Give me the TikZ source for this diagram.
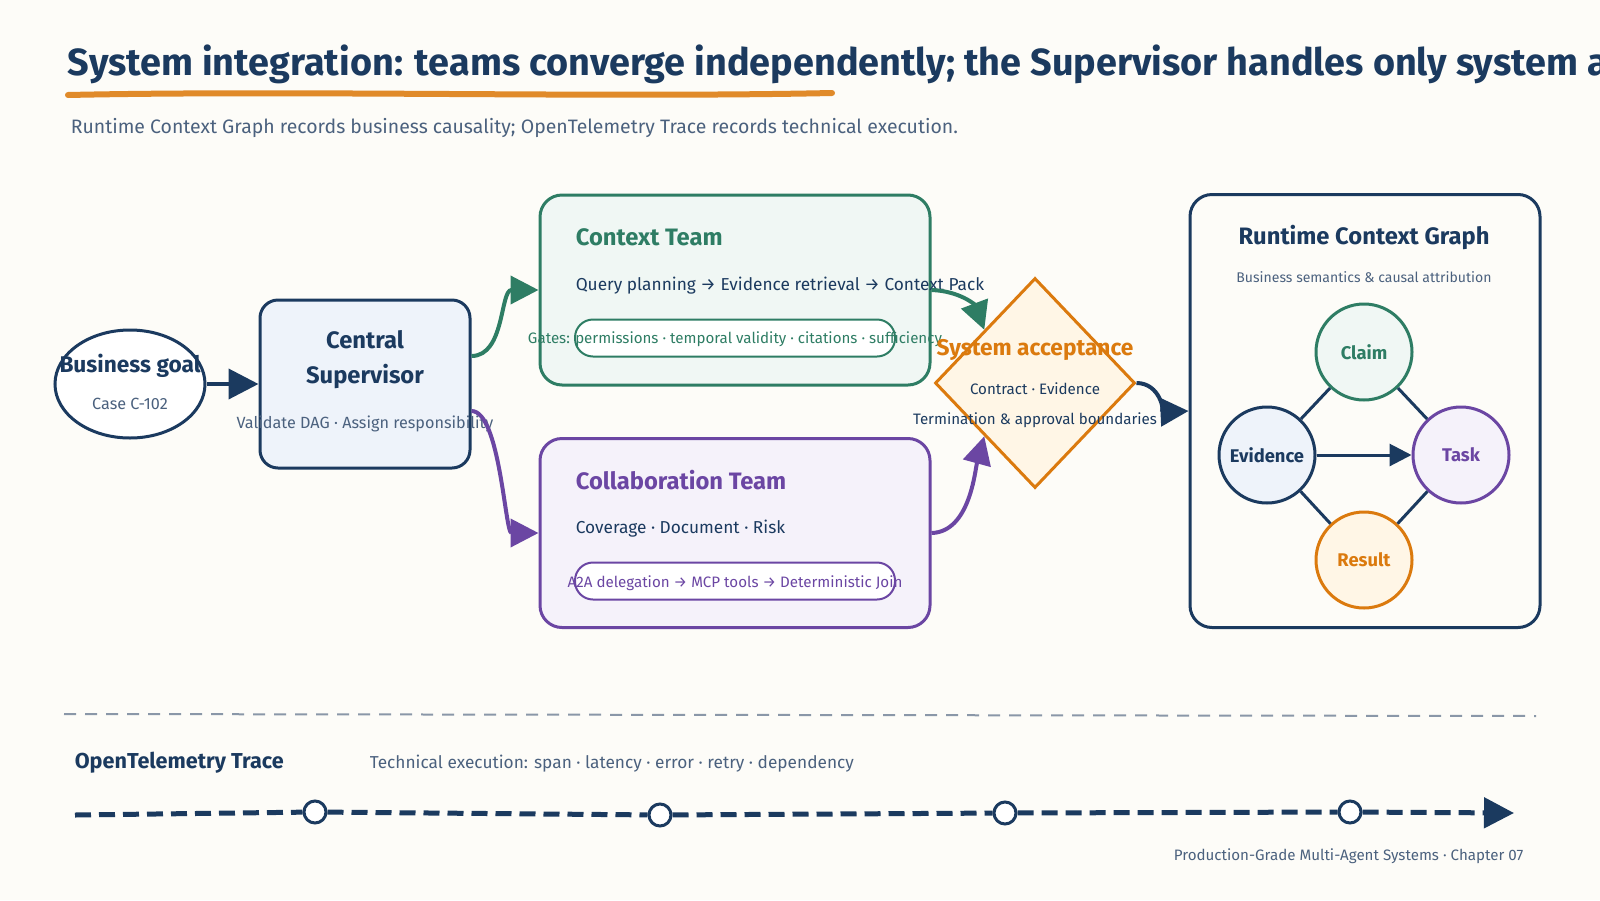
\documentclass[tikz,border=0pt]{standalone}
\usepackage{fontspec}
\setmainfont{Fira Sans}[Scale=1.08]
\usetikzlibrary{positioning,arrows.meta,shapes.geometric}
\definecolor{bgcream}{HTML}{FDFCF8}
\definecolor{navy}{HTML}{1B3A5F}
\definecolor{slate}{HTML}{4B617E}
\definecolor{teamgreen}{HTML}{2E7D64}
\definecolor{greenfill}{HTML}{F0F7F4}
\definecolor{teampurple}{HTML}{6B46A3}
\definecolor{purplefill}{HTML}{F5F2FA}
\definecolor{accorange}{HTML}{DB7A0E}
\definecolor{orangefill}{HTML}{FFF6E6}
\definecolor{markorange}{HTML}{E08A2A}
\definecolor{supfill}{HTML}{EEF3FA}
\definecolor{rulegrey}{HTML}{8A97A8}
\tikzset{
	bigtip/.style={-{Triangle[length=30pt,width=30pt]}},
	flow/.style={line width=4pt, draw=#1, -{Triangle[length=28pt,width=28pt,color=#1]}},
	panel/.style={draw=#1, line width=3pt, rounded corners=22pt, inner sep=0pt},
	pill/.style={draw=#1, line width=2pt, fill=white, rounded corners=18pt, minimum width=320pt, minimum height=37pt},
	graphnode/.style={circle, draw=#1, line width=3pt, minimum size=96pt, inner sep=0pt, text=#1, font=\fontsize{17}{20}\selectfont\bfseries},
	heading/.style={text=#1, font=\fontsize{22}{26}\selectfont\bfseries},
	smalltext/.style={text=#1, font=\fontsize{14}{17}\selectfont},
	bodytext/.style={text=navy, font=\fontsize{16}{19}\selectfont}
}

\begin{document}
\begin{tikzpicture}[x=1pt,y=-1pt]
	\useasboundingbox[fill=bgcream] (0,0) rectangle (1600,900);

	% title block
	\node[anchor=west, text=navy, font=\fontsize{35}{42}\selectfont\bfseries] (title) at (64,64) {System integration: teams converge independently; the Supervisor handles only system acceptance};
	\draw[markorange, line width=6pt, line cap=round] (68,95) .. controls (300,90) and (600,98) .. (832,93);
	\node[anchor=west, text=slate, font=\fontsize{18}{22}\selectfont] (subtitle) at (67,128) {Runtime Context Graph records business causality; OpenTelemetry Trace records technical execution.};

	% business goal
	\node[ellipse, draw=navy, line width=3pt, fill=white, minimum width=150pt, minimum height=108pt] (goal) at (130,384) {};
	\node[heading=navy, font=\fontsize{21}{25}\selectfont\bfseries] (goalT) at (130,366) {Business goal};
	\node[smalltext=slate, font=\fontsize{15}{18}\selectfont] (goalS) at (130,404) {Case C-102};

	% central supervisor
	\node[panel=navy, fill=supfill, rounded corners=18pt, minimum width=210pt, minimum height=168pt] (sup) at (365,384) {};
	\node[heading=navy, align=center, font=\fontsize{22}{35}\selectfont\bfseries] (supT) at (365,360) {Central\\Supervisor};
	\node[smalltext=slate, font=\fontsize{15}{18}\selectfont] (supS) at (365,424) {Validate DAG · Assign responsibility};

	% context team
	\node[panel=teamgreen, fill=greenfill, minimum width=390pt, minimum height=190pt] (ctx) at (735,290) {};
	\node[heading=teamgreen, anchor=west] (ctxT) at (572,237) {Context Team};
	\node[bodytext, anchor=west] (ctxS) at (572,286) {Query planning → Evidence retrieval → Context Pack};
	\node[pill=teamgreen] (ctxP) at (735,338) {};
	\node[smalltext=teamgreen] (ctxG) at (735,339) {Gates: permissions · temporal validity · citations · sufficiency};

	% collaboration team
	\node[panel=teampurple, fill=purplefill, minimum width=390pt, minimum height=189pt] (col) at (735,533) {};
	\node[heading=teampurple, anchor=west] (colT) at (572,480) {Collaboration Team};
	\node[bodytext, anchor=west] (colS) at (572,529) {Coverage · Document · Risk};
	\node[pill=teampurple] (colP) at (735,581) {};
	\node[smalltext=teampurple] (colG) at (735,583) {A2A delegation → MCP tools → Deterministic Join};

	% system acceptance
	\node[diamond, draw=accorange, line width=3pt, fill=orangefill, minimum width=200pt, minimum height=210pt, inner sep=0pt] (accept) at (1035,383) {};
	\node[heading=accorange, font=\fontsize{21}{25}\selectfont\bfseries] (accT) at (1035,350) {System acceptance};
	\node[smalltext=navy] (accS) at (1035,389) {Contract · Evidence};
	\node[smalltext=navy] (accB) at (1035,420) {Termination \& approval boundaries};

	% runtime context graph
	\node[panel=navy, fill=bgcream, minimum width=350pt, minimum height=433pt] (rcg) at (1365,411) {};
	\node[heading=navy] (rcgT) at (1364,237) {Runtime Context Graph};
	\node[smalltext=slate, font=\fontsize{13}{16}\selectfont] (rcgS) at (1364,277) {Business semantics \& causal attribution};
	\node[graphnode=teamgreen, fill=greenfill] (claim) at (1364,352) {Claim};
	\node[graphnode=navy, fill=supfill] (evid) at (1267,455) {Evidence};
	\node[graphnode=teampurple, fill=purplefill] (task) at (1461,455) {Task};
	\node[graphnode=accorange, fill=orangefill] (result) at (1364,560) {Result};

	\draw[navy, line width=3pt] (claim) -- (evid);
	\draw[navy, line width=3pt] (claim) -- (task);
	\draw[navy, line width=3pt] (evid) -- (result);
	\draw[navy, line width=3pt] (task) -- (result);
	\draw[navy, line width=3pt, -{Triangle[length=22pt,width=22pt]}] (evid) -- (task);

	% connectors
	\draw[navy, line width=4pt, bigtip] (goal) -- (sup);
	\draw[flow=teamgreen] ([yshift=28pt]sup.east) .. controls (505,356) and (500,290) .. (ctx.west);
	\draw[flow=teampurple] ([yshift=-27pt]sup.east) .. controls (500,411) and (505,533) .. (col.west);
	\draw[flow=teamgreen] (ctx.east) .. controls (960,291) and (975,305) .. (accept.north west);
	\draw[flow=teampurple] (col.east) .. controls (970,532) and (975,470) .. (accept.south west);
	\draw[flow=navy] (accept.east) .. controls (1160,383) and (1165,412) .. (rcg.west);

	% trace lane
	\draw[rulegrey, line width=2pt, dash pattern=on 12pt off 9pt] (64,714) -- (1536,716);
	\node[anchor=west, text=navy, font=\fontsize{20}{24}\selectfont\bfseries] (otT) at (71,763) {OpenTelemetry Trace};
	\node[anchor=west, text=slate, font=\fontsize{16}{19}\selectfont] (otS) at (366,764) {Technical execution: span · latency · error · retry · dependency};

	\coordinate (t0) at (75,815);
	\coordinate (t5) at (1514,813);
	\foreach \n/\x/\y in {1/315/812, 2/660/815, 3/1005/813, 4/1350/812}
		\node[circle, draw=navy, line width=3pt, fill=white, minimum size=22pt, inner sep=0pt] (span\n) at (\x,\y) {};
	\draw[navy, line width=5pt, dash pattern=on 16pt off 8pt] (t0) -- (span1) -- (span2) -- (span3) -- (span4);
	\draw[navy, line width=5pt, dash pattern=on 16pt off 8pt, bigtip] (span4) -- (t5);

	\node[anchor=east, text=slate, font=\fontsize{14}{17}\selectfont] (footer) at (1527,856) {Production-Grade Multi-Agent Systems · Chapter 07};
\end{tikzpicture}
\end{document}
